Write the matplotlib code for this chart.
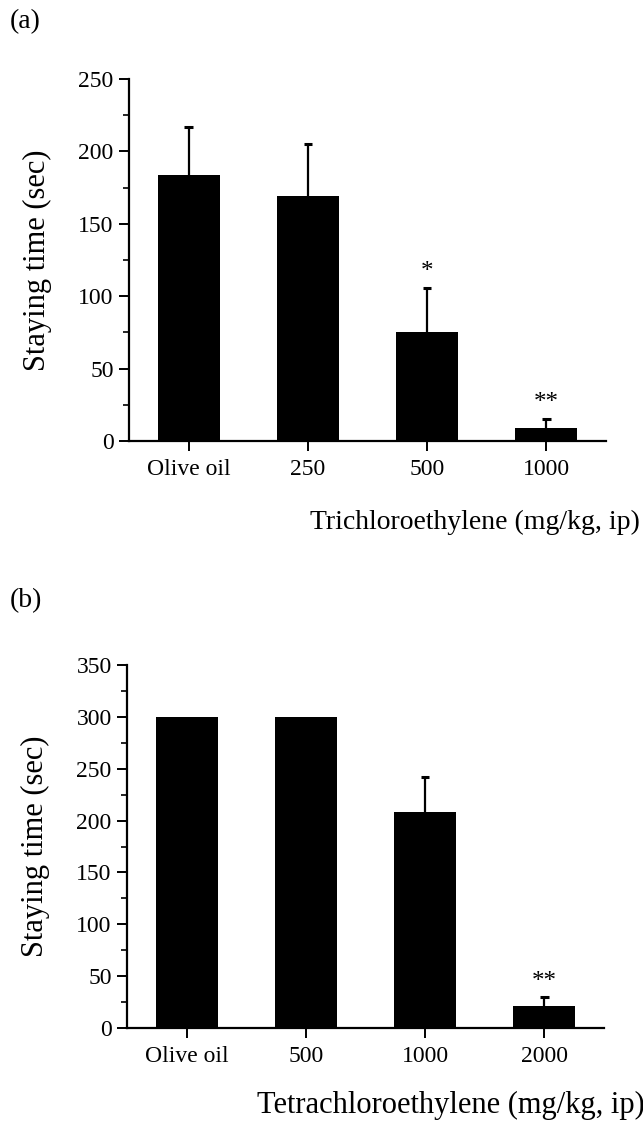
import matplotlib
matplotlib.use('Agg')
from matplotlib import pyplot as plt
from matplotlib.ticker import MultipleLocator

plt.rcParams['font.family'] = ['Liberation Serif', 'DejaVu Serif']

# (a) trichloroethylene
tce_doses = ['Olive oil', '250', '500', '1000']
tce_mean = [184, 169, 75, 9]
tce_sem = [33, 36, 31, 6.5]
tce_marks = ['', '', '*', '**']

# (b) tetrachloroethylene
pce_doses = ['Olive oil', '500', '1000', '2000']
pce_mean = [300, 300, 208, 21]
pce_sem = [0, 0, 34, 9]
pce_marks = ['', '', '', '**']

W, H = 643, 1125


def px_axes(fig, left, right, top, bottom):
    return fig.add_axes([left / W, 1 - bottom / H, (right - left) / W, (bottom - top) / H])


def draw_panel(ax, labels, means, sems, marks, ymax, major):
    x = list(range(len(labels)))
    ax.bar(x, means, width=0.52, color='black', zorder=2)
    # upper error bars only
    for xi, m, s, mk in zip(x, means, sems, marks):
        if s > 0:
            ax.vlines(xi, m, m + s, color='black', linewidth=1.6, zorder=1)
            ax.hlines(m + s, xi - 0.035, xi + 0.035, color='black', linewidth=2.2, zorder=1)
        if mk:
            ax.text(xi, m + s + ymax * 0.012, mk, ha='center', va='bottom', fontsize=18)
    ax.set_xlim(-0.5, 3.5)
    ax.set_ylim(0, ymax)
    ax.set_xticks(x)
    ax.set_xticklabels(labels)
    ax.yaxis.set_major_locator(MultipleLocator(major))
    ax.yaxis.set_minor_locator(MultipleLocator(major / 2))
    for side in ['top', 'right']:
        ax.spines[side].set_visible(False)
    for side in ['left', 'bottom']:
        ax.spines[side].set_linewidth(1.6)
    ax.tick_params(axis='both', which='major', direction='out', length=7, width=1.4,
                   labelsize=17, pad=4)
    ax.tick_params(axis='y', which='minor', direction='out', length=4, width=1.2)
    ax.tick_params(axis='x', which='major', length=7, pad=6)
    ax.set_ylabel('Staying time (sec)', fontsize=22)
    ax.yaxis.set_label_coords(-0.162, 0.5)


fig = plt.figure(figsize=(6.43, 11.25), dpi=100)

ax1 = px_axes(fig, 129, 606, 79, 441)
draw_panel(ax1, tce_doses, tce_mean, tce_sem, tce_marks, 250, 50)

ax2 = px_axes(fig, 127, 604, 665, 1028)
draw_panel(ax2, pce_doses, pce_mean, pce_sem, pce_marks, 350, 50)

fig.text(10 / W, 1 - 22 / H, '(a)', fontsize=20, ha='left', va='center')
fig.text(10 / W, 1 - 601 / H, '(b)', fontsize=20, ha='left', va='center')
fig.text(640 / W, 1 - 522 / H, 'Trichloroethylene (mg/kg, ip)', fontsize=20,
         ha='right', va='center')
fig.text(645 / W, 1 - 1105 / H, 'Tetrachloroethylene (mg/kg, ip)', fontsize=22,
         ha='right', va='center')

fig.savefig('out.png', dpi=100)
